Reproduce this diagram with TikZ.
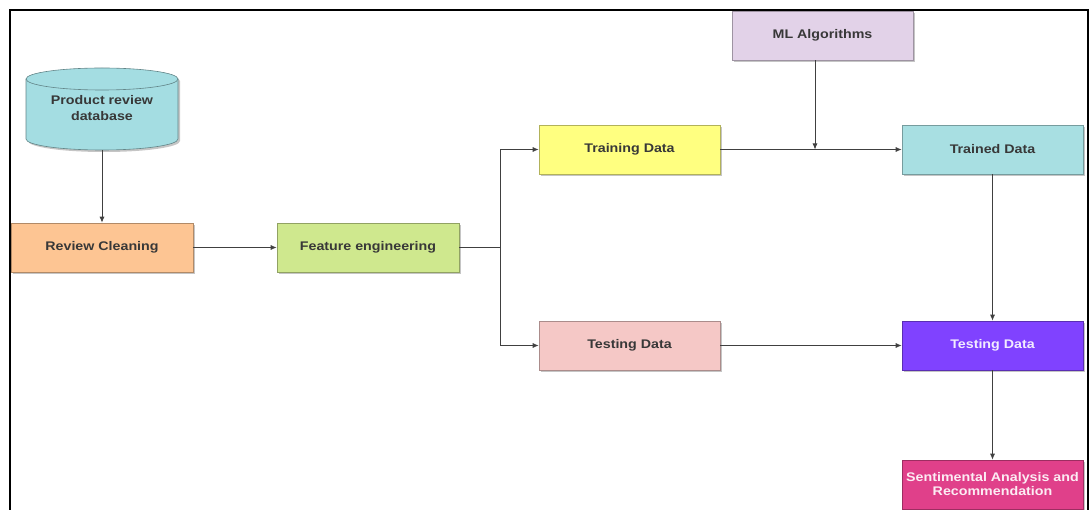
\documentclass[tikz,border=0pt]{standalone}
\usepackage{fontspec}
\newfontfamily\lblfont[FakeStretch=1.14]{Liberation Sans}
\usetikzlibrary{arrows.meta,shadows}
\definecolor{dbfill}{HTML}{A4DDE2}
\definecolor{rcfill}{HTML}{FDC593}
\definecolor{fefill}{HTML}{CFE88E}
\definecolor{trfill}{HTML}{FFFF80}
\definecolor{tefill}{HTML}{F5C8C6}
\definecolor{mlfill}{HTML}{E2D2E8}
\definecolor{tdfill}{HTML}{A8DFE2}
\definecolor{tpfill}{HTML}{8042FF}
\definecolor{safill}{HTML}{E0408A}
\definecolor{txt}{HTML}{383838}
\begin{document}
\begin{tikzpicture}[x=1pt,y=1pt,
  box/.style={draw=#1!70!black,fill=#1,line width=0.6pt,minimum width=181pt,minimum height=49pt,
    inner sep=1pt,align=center,font=\lblfont\bfseries\fontsize{12.5}{14}\selectfont,text=txt,
    drop shadow={shadow xshift=2pt,shadow yshift=-2pt,fill=black!45,opacity=0.5}},
  conn/.style={draw=black!75,line width=0.8pt},
  arr/.style={conn,-{Latex[length=6pt,width=5pt]}}]
\useasboundingbox (0,0) rectangle (1091,-510);
\draw[line width=1.3pt] (10,-510) -- (10,-10) -- (1088,-10) -- (1088,-510);
% database cylinder
\fill[black!45,opacity=0.5,shift={(2,-2)}] (26,-79) -- (26,-139) arc[start angle=180,end angle=360,x radius=76,y radius=11] -- (178,-79) arc[start angle=0,end angle=180,x radius=76,y radius=11] -- cycle;
\filldraw[fill=dbfill,draw=dbfill!60!black,line width=0.6pt] (26,-79) -- (26,-139) arc[start angle=180,end angle=360,x radius=76,y radius=11] -- (178,-79) arc[start angle=0,end angle=180,x radius=76,y radius=11] -- cycle;
\draw[dbfill!60!black,line width=0.6pt] (26,-79) arc[start angle=180,end angle=360,x radius=76,y radius=11];
\node[minimum width=152pt,minimum height=82pt,inner sep=0pt,text=txt,
  font=\lblfont\bfseries\fontsize{12.5}{14}\selectfont] (db) at (102,-109) {};
\node[align=center,text=txt,inner sep=0pt,font=\lblfont\bfseries\fontsize{12.5}{16}\selectfont] (dbt) at (102,-108) {Product review\\database};
\node[box=rcfill,minimum width=182pt] (rc) at (102,-247.5) {Review Cleaning};
\node[box=fefill,minimum width=182pt] (fe) at (368,-247.5) {Feature engineering};
\node[box=trfill] (tr) at (629.5,-149.5) {Training Data};
\node[box=tefill] (te) at (629.5,-345.5) {Testing Data};
\node[box=mlfill] (ml) at (822.5,-35.5) {ML Algorithms};
\node[box=tdfill] (td) at (992.5,-149.5) {Trained Data};
\node[box=tpfill,text=white!90!tpfill] (tp) at (992.5,-345.5) {Testing Data};
\node[box=safill,text=white!90!safill,minimum height=49pt] (sa) at (992.5,-484.5) {Sentimental Analysis and\\Recommendation};
\coordinate (split) at (500,-247.5);
\coordinate (join) at (815,-149.5);
\draw[arr] (db.south) -- (rc.north);
\draw[arr] (rc.east) -- (fe.west);
\draw[conn] (fe.east) -- (split);
\draw[arr] (split) |- (tr.west);
\draw[arr] (split) |- (te.west);
\draw[arr] (tr.east) -- (td.west);
\draw[arr] (ml.south -| join) -- (join);
\draw[arr] (td.south) -- (tp.north);
\draw[arr] (te.east) -- (tp.west);
\draw[arr] (tp.south) -- (sa.north);
\end{tikzpicture}
\end{document}
